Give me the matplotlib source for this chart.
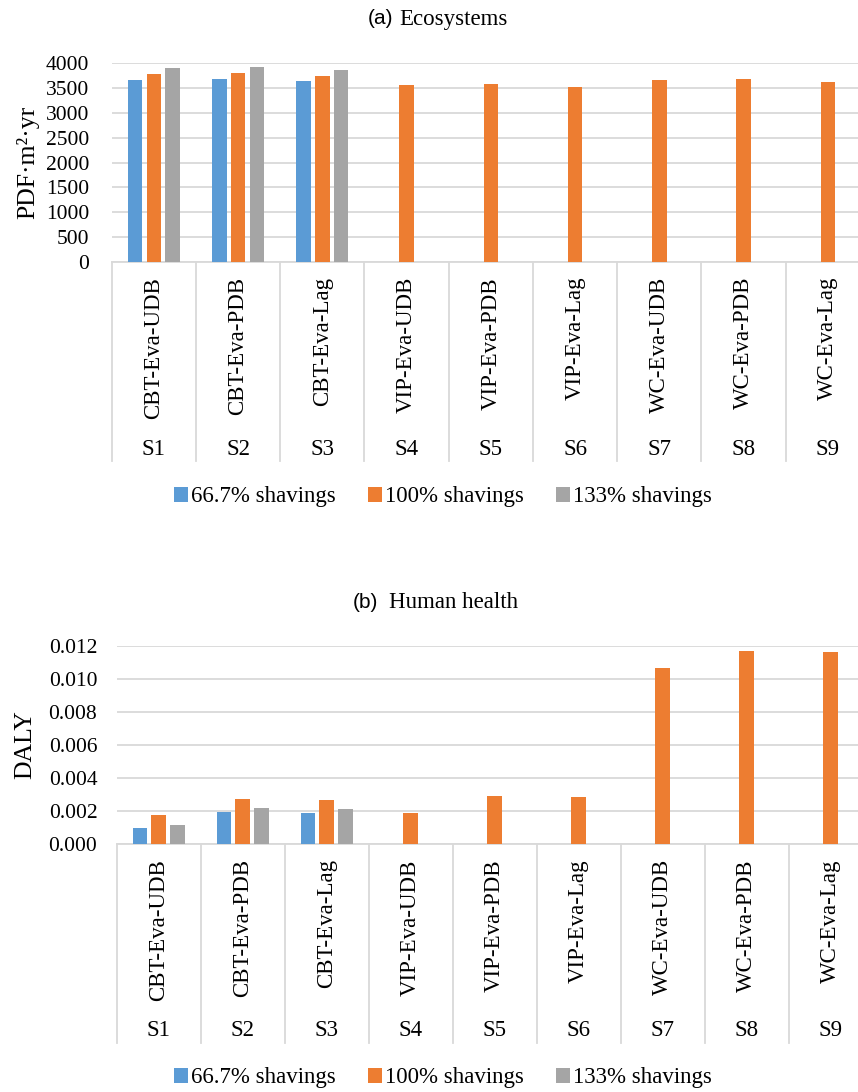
import matplotlib
matplotlib.use("Agg")
import matplotlib.pyplot as plt
import matplotlib.transforms as mtransforms
from matplotlib.patches import Patch
from matplotlib.ticker import FixedLocator, StrMethodFormatter
import numpy as np

# ---------------- data ----------------
scenarios = ["S1", "S2", "S3", "S4", "S5", "S6", "S7", "S8", "S9"]
systems = ["CBT-Eva-UDB", "CBT-Eva-PDB", "CBT-Eva-Lag",
           "VIP-Eva-UDB", "VIP-Eva-PDB", "VIP-Eva-Lag",
           "WC-Eva-UDB", "WC-Eva-PDB", "WC-Eva-Lag"]
series_names = ["66.7% shavings", "100% shavings", "133% shavings"]

eco_667 = [3660, 3680, 3630, None, None, None, None, None, None]
eco_100 = [3780, 3800, 3740, 3550, 3570, 3515, 3650, 3675, 3610]
eco_133 = [3900, 3920, 3865, None, None, None, None, None, None]

hh_667 = [0.00097, 0.00197, 0.00191, None, None, None, None, None, None]
hh_100 = [0.00175, 0.00276, 0.00270, 0.00191, 0.00292, 0.00286, 0.01065, 0.01168, 0.01162]
hh_133 = [0.00118, 0.00219, 0.00213, None, None, None, None, None, None]

eco_ticks = [0, 500, 1000, 1500, 2000, 2500, 3000, 3500, 4000]
hh_ticks = [0.000, 0.002, 0.004, 0.006, 0.008, 0.010, 0.012]

colors = ["#5b9bd5", "#ed7d31", "#a5a5a5"]
grid_c = "#d9d9d9"
SERIF = ["Liberation Serif", "DejaVu Serif"]
SANS = ["Liberation Sans", "DejaVu Sans"]

plt.rcParams["font.family"] = SERIF

W, H = 858, 1092
fig = plt.figure(figsize=(W / 100, H / 100), dpi=100)


def px_axes(x0, x1, ytop, ybot):
    return fig.add_axes([x0 / W, 1 - ybot / H, (x1 - x0) / W, (ybot - ytop) / H])


def draw_panel(ax, series, ticks, ymax, fmt, ylabel, ylab_x, pad):
    x = np.arange(len(scenarios))
    offs = [-0.222, 0.0, 0.222]
    width = 0.172
    for vals, off, c in zip(series, offs, colors):
        xs = [xi + off for xi, v in zip(x, vals) if v is not None]
        vs = [v for v in vals if v is not None]
        ax.bar(xs, vs, width=width, color=c, zorder=3)
    ax.set_xlim(-0.5, len(scenarios) - 0.5)
    ax.set_ylim(0, ymax)
    ax.yaxis.set_major_locator(FixedLocator(ticks))
    ax.yaxis.set_major_formatter(StrMethodFormatter(fmt))
    ax.grid(axis="y", color=grid_c, linewidth=1.3, zorder=0)
    for s in ["top", "right", "left"]:
        ax.spines[s].set_visible(False)
    ax.spines["bottom"].set_color(grid_c)
    ax.spines["bottom"].set_linewidth(1.3)
    ax.tick_params(axis="y", length=0, labelsize=15.5, pad=pad)
    ax.tick_params(axis="x", length=0, labelbottom=False)
    for t in ax.get_yticklabels():
        t.set_fontfamily(SERIF)
    ax.set_ylabel(ylabel, fontsize=18.5, family=SERIF)
    ax.yaxis.set_label_coords(ylab_x, 0.5)
    trans = mtransforms.blended_transform_factory(ax.transData, ax.transAxes)
    for b in np.arange(len(scenarios) + 1) - 0.5:
        ax.plot([b, b], [0, -1.0], transform=trans, color=grid_c,
                linewidth=1.3, clip_on=False, zorder=1)
    for xi, lab, sc in zip(x, systems, scenarios):
        ax.text(xi, -0.075, lab, transform=trans, rotation=90, ha="center",
                va="top", fontsize=16.5, family=SERIF, clip_on=False)
        ax.text(xi, -0.94, sc, transform=trans, ha="center", va="center",
                fontsize=16.5, family=SERIF, clip_on=False)


# ---------------- panel (a) ----------------
ax1 = px_axes(111.7, 870, 63, 262)
draw_panel(ax1, [eco_667, eco_100, eco_133], eco_ticks, 4000, "{x:.0f}",
           "PDF·m²·yr", -0.096, 16)

# ---------------- panel (b) ----------------
ax2 = px_axes(116.7, 872.7, 645.7, 844.3)
draw_panel(ax2, [hh_667, hh_100, hh_133], hh_ticks, 0.012, "{x:.3f}",
           "DALY", -0.107, 14)

# ---------------- titles ----------------
fig.text(368 / W, 1 - 19 / H, "(a)", family=SANS, fontsize=15, ha="left", va="center")
fig.text(508 / W, 1 - 19 / H, "Ecosystems", family=SERIF, fontsize=16.5, ha="right", va="center")
fig.text(353 / W, 1 - 602 / H, "(b)", family=SANS, fontsize=15, ha="left", va="center")
fig.text(518 / W, 1 - 602 / H, "Human health", family=SERIF, fontsize=16.5, ha="right", va="center")

# ---------------- legends ----------------
handles = [Patch(facecolor=c, edgecolor="none") for c in colors]
for yc in (497, 1078):
    fig.legend(handles, series_names, loc="center", ncol=3,
               bbox_to_anchor=(443 / W, 1 - yc / H), frameon=False,
               prop={"family": SERIF, "size": 16.5},
               handlelength=0.6, handleheight=0.6,
               handletextpad=0.15, columnspacing=1.4, borderaxespad=0)

fig.savefig("out.png", dpi=100)
